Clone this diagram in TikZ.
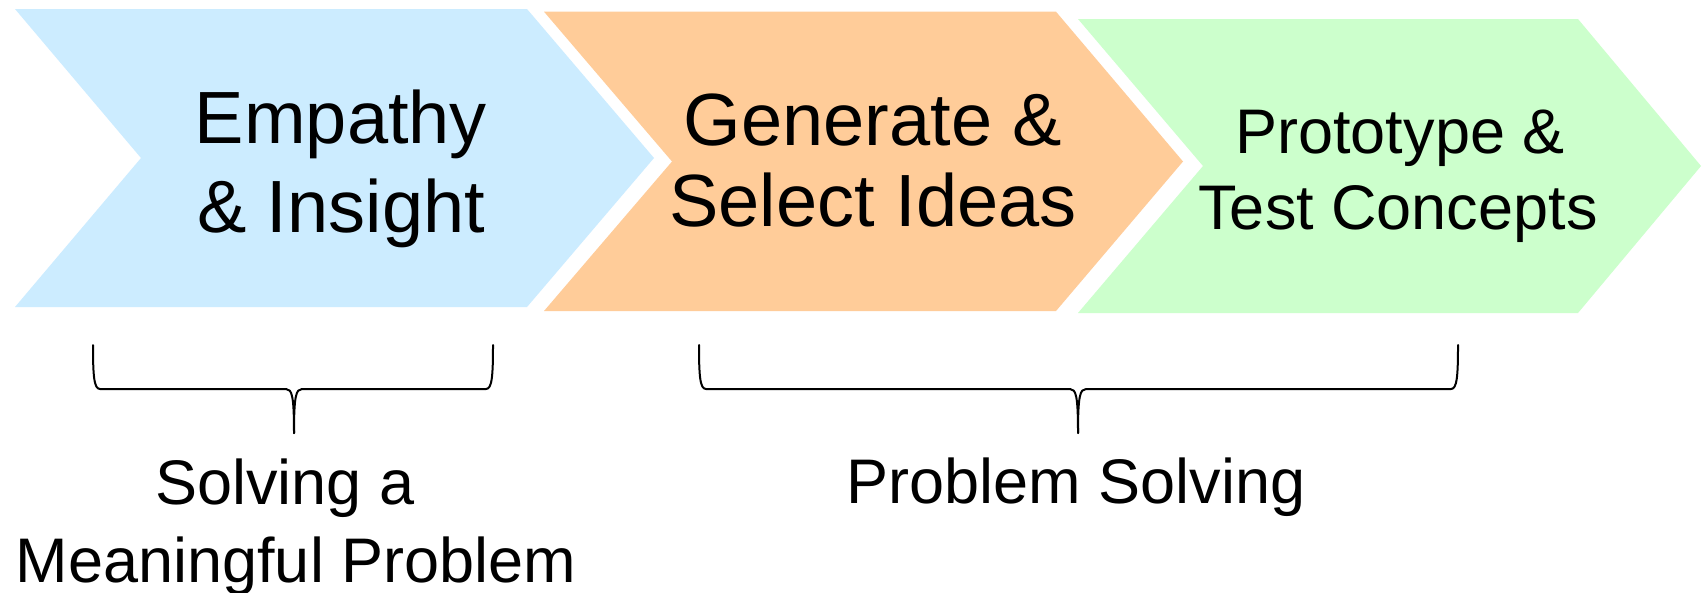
\documentclass[tikz,border=0pt]{standalone}
\usepackage{fontspec}
\setmainfont{Liberation Sans}
\definecolor{chevblue}{RGB}{204,236,255}
\definecolor{chevorange}{RGB}{255,204,153}
\definecolor{chevgreen}{RGB}{204,255,204}
\tikzset{
  bigtext/.style={anchor=base, inner sep=0pt, font=\fontsize{74}{74}\selectfont},
  smalltext/.style={anchor=base, inner sep=0pt, font=\fontsize{63}{63}\selectfont},
  bracestyle/.style={draw=black, line width=2pt, line join=round, line cap=round},
}
\begin{document}
\begin{tikzpicture}[x=1pt,y=-1pt]
\useasboundingbox[fill=white] (0,0) rectangle (1702,592);
% chevrons
\fill[chevblue] (15,9) -- (527,9) -- (654,158) -- (527,307) -- (15,307) -- (141,158) -- cycle;
\fill[chevorange] (544,11.7) -- (1056,11.7) -- (1183,161.5) -- (1056,311) -- (544,311) -- (672,161.5) -- cycle;
\fill[chevgreen] (1078,19) -- (1578,19) -- (1701,166) -- (1578,313) -- (1078,313) -- (1203,166) -- cycle;
% chevron texts
\node[bigtext] (e1) at (341,143) {Empathy};
\node[bigtext] (e2) at (341,232) {\& Insight};
\node[bigtext] (g1) at (873,145) {Generate \&};
\node[bigtext] (g2) at (873,226) {Select Ideas};
\node[smalltext] (p1) at (1400,153) {Prototype \&};
\node[smalltext] (p2) at (1398,229) {Test Concepts};
% braces
\draw[bracestyle] (93,345) .. controls (93,376) and (94,389) .. (100,389) -- (286,389)
  .. controls (292,389) and (294,396) .. (294,433);
\draw[bracestyle] (493,345) .. controls (493,376) and (492,389) .. (486,389) -- (302,389)
  .. controls (296,389) and (294,396) .. (294,433);
\draw[bracestyle] (699,345) .. controls (699,376) and (700,389) .. (706,389) -- (1070,389)
  .. controls (1076,389) and (1078,396) .. (1078,433);
\draw[bracestyle] (1458,345) .. controls (1458,376) and (1457,389) .. (1451,389) -- (1086,389)
  .. controls (1080,389) and (1078,396) .. (1078,433);
% bottom labels
\node[smalltext] (s1) at (285,504) {Solving a};
\node[smalltext] (s2) at (296,582) {Meaningful Problem};
\node[smalltext] (ps) at (1076,503) {Problem Solving};
\end{tikzpicture}
\end{document}
